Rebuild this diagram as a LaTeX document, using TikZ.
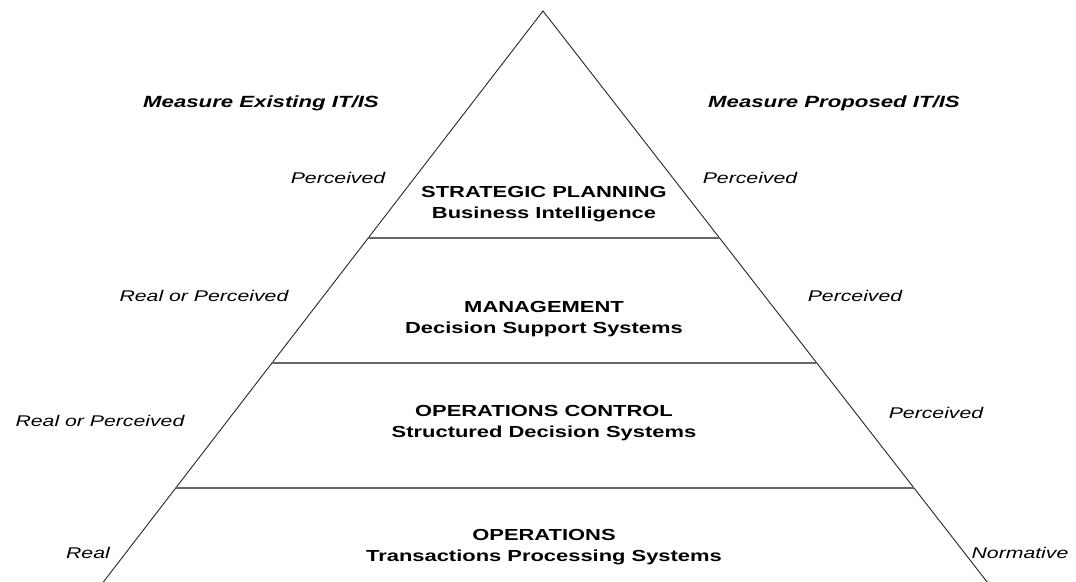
\documentclass[tikz,border=0pt]{standalone}
\usepackage{fontspec}
\setmainfont{Liberation Sans}
\newfontfamily\labfont[FakeStretch=1.37]{Liberation Sans}
\begin{document}
\begin{tikzpicture}[x=1pt,y=-1pt,
  side/.style={draw=black!85,line width=0.9pt},
  tier/.style={draw=black!60,line width=1.2pt},
  head/.style={font=\labfont\fontsize{16.2}{18}\selectfont\bfseries\itshape,inner sep=0pt},
  note/.style={font=\labfont\fontsize{15.5}{18}\selectfont\itshape,inner sep=0pt},
  level/.style={font=\labfont\fontsize{16}{21}\selectfont\bfseries,inner sep=0pt,align=center}]
\useasboundingbox (0,0) rectangle (1076,581);
\clip (0,0) rectangle (1076,581);
% triangle
\coordinate (apex) at (543,11);
\coordinate (bl) at (99.5,587);
\coordinate (br) at (991,587);
\draw[side] (bl) -- (apex) -- (br);
% tier lines
\coordinate (l1) at (368,238); \coordinate (r1) at (720,238);
\coordinate (l2) at (272,363); \coordinate (r2) at (816,363);
\coordinate (l3) at (176,488); \coordinate (r3) at (914,488);
\draw[tier] (l1) -- (r1);
\draw[tier] (l2) -- (r2);
\draw[tier] (l3) -- (r3);
% headings
\node[head] (mex) at (261,103) {Measure Existing IT/IS};
\node[head] (mpr) at (834,103) {Measure Proposed IT/IS};
% left notes
\node[note] (p1) at (338,178) {Perceived};
\node[note] (p2) at (204,296) {Real or Perceived};
\node[note] (p3) at (100,421) {Real or Perceived};
\node[note] (p4) at (88,553) {Real};
% right notes
\node[note] (q1) at (750,178) {Perceived};
\node[note] (q2) at (855,296) {Perceived};
\node[note] (q3) at (936,413) {Perceived};
\node[note] (q4) at (1020,553) {Normative};
% levels
\node[level] (s1) at (544,204) {STRATEGIC PLANNING\\Business Intelligence};
\node[level] (s2) at (544,319) {MANAGEMENT\\Decision Support Systems};
\node[level] (s3) at (544,423) {OPERATIONS CONTROL\\Structured Decision Systems};
\node[level] (s4) at (544,547) {OPERATIONS\\Transactions Processing Systems};
\end{tikzpicture}
\end{document}
